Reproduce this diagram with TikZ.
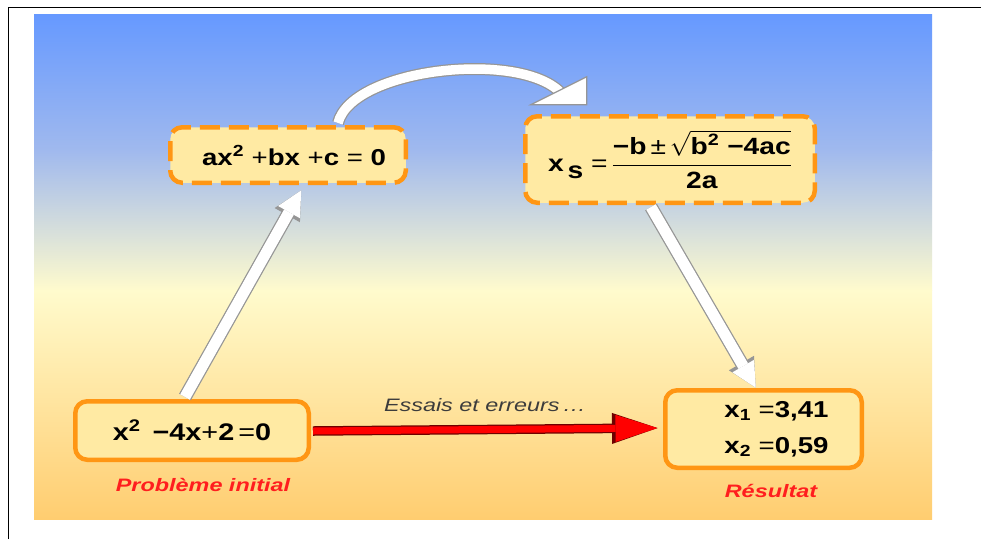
\documentclass[tikz,border=0pt]{standalone}
\usepackage{amsmath}
\usepackage{fontspec}
\setmainfont{Liberation Sans}
\newfontfamily\boxfont[FakeStretch=1.2]{Liberation Sans}
\newfontfamily\labfont[FakeStretch=1.3]{Liberation Sans}
\usetikzlibrary{arrows.meta,calc}
\definecolor{topblue}{RGB}{102,153,255}
\definecolor{lightblue}{RGB}{160,185,238}
\definecolor{greenish}{RGB}{222,232,212}
\definecolor{paleyellow}{RGB}{255,251,205}
\definecolor{midorange}{RGB}{255,230,155}
\definecolor{botorange}{RGB}{255,205,112}
\definecolor{boxfill}{RGB}{255,234,163}
\definecolor{boxorange}{RGB}{255,150,20}
\definecolor{arrowgray}{RGB}{150,150,150}
\definecolor{darkred}{RGB}{110,0,0}
\definecolor{labred}{RGB}{255,30,30}
\definecolor{textgray}{RGB}{60,60,60}
\tikzset{
  boxbase/.style={draw=boxorange, line width=4.5pt, fill=boxfill,
    rounded corners=12pt, inner sep=0pt},
  dbox/.style={boxbase, dash pattern=on 20pt off 9pt},
  sbox/.style={boxbase},
  warrow/.style={line width=11pt, draw=white, shorten >=1.5pt,
    -{Triangle[length=25pt,width=25pt,line width=0pt]},
    preaction={draw=arrowgray, line width=13.5pt,
      -{Triangle[length=28.5pt,width=29pt,line width=0pt]}}},
  wshaft/.style={line width=9.5pt, draw=white,
    preaction={draw=arrowgray, line width=12pt}},
  whead/.style={fill=white, draw=arrowgray, line width=1.2pt, line join=miter},
  rarrow/.style={line width=7pt, draw=red, shorten >=1.5pt,
    -{Triangle[length=42pt,width=27pt,line width=0pt]},
    preaction={draw=darkred, line width=9.5pt,
      -{Triangle[length=45.5pt,width=31pt,line width=0pt]}}},
  lab/.style={font=\labfont\bfseries\itshape\fontsize{18}{20}\selectfont, text=labred},
}
\begin{document}
\begin{tikzpicture}[x=1pt,y=-1pt]
\useasboundingbox (0,0) rectangle (981,539);
\fill[white] (0,0) rectangle (981,539);
% background gradient
\shade[top color=topblue, bottom color=lightblue] (34,14) rectangle (932,150.6);
\shade[top color=lightblue, middle color=greenish, bottom color=paleyellow] (34,150) rectangle (932,290.6);
\shade[top color=paleyellow, middle color=midorange, bottom color=botorange] (34,290) rectangle (932,519);
% frame
\draw[black, line width=1.5pt] (8.5,539) -- (8.5,7.5) -- (981,7.5);
% boxes
\node[dbox, minimum width=235.5pt, minimum height=55.5pt,
  font=\boxfont\bfseries\fontsize{23}{26}\selectfont] (A) at (288,155)
  {\hspace*{12pt}ax\textsuperscript{2} \textmd{+}bx \textmd{+}c \textmd{=} 0};
\node[dbox, minimum width=289.5pt, minimum height=86.5pt,
  font=\boxfont\bfseries\fontsize{23.5}{26}\selectfont] (B) at (670,159.5)
  {x\,\raisebox{-7pt}{s} \textmd{=}$\,\dfrac{\text{−b\,\textmd{±}\,}\sqrt{\text{b\textsuperscript{2} −4ac}}}{\text{2a}}$};
\node[sbox, minimum width=233.5pt, minimum height=58.5pt,
  font=\boxfont\bfseries\fontsize{24}{26}\selectfont] (C) at (192,430.5)
  {x\textsuperscript{2} \,−4x\textmd{+}2\,\textmd{=}0};
\node[sbox, minimum width=196.5pt, minimum height=77.5pt, align=left,
  font=\boxfont\bfseries\fontsize{23}{36}\selectfont] (D) at (763.5,429)
  {\hspace*{26pt}x\textsubscript{1} \textmd{=}3,41\\\hspace*{26pt}x\textsubscript{2} \textmd{=}0,59};
% labels
\node[lab] (L1) at (203,485) {Problème initial};
\node[lab] (L2) at (771,491) {Résultat};
\node[font=\labfont\itshape\fontsize{18}{20}\selectfont, text=textgray] (E) at (485,405) {Essais et erreurs\,\ldots};
% arrows
\draw[warrow] ([xshift=-7pt,yshift=2pt]C.north) -- ([xshift=14pt,yshift=-4pt]A.south);
\draw[warrow] ([xshift=-19pt,yshift=-2pt]B.south) -- ([xshift=-7pt,yshift=-1pt]D.north);
\coordinate (H1) at ($(B.north west)+(63.75,-37.25)$);
\coordinate (H2) at ($(B.north west)+(63.75,-9.25)$);
\coordinate (H3) at ($(B.north west)+(7.75,-9.25)$);
\draw[wshaft] ([xshift=50pt,yshift=2pt]A.north) .. controls (352,68) and (520,50) .. ($(H1)!0.5!(H3)+(2,2)$);
\draw[whead] (H1) -- (H2) -- (H3) -- cycle;
\draw[rarrow] ([xshift=2pt,yshift=-0.5pt]C.east) -- ([xshift=-4pt,yshift=1pt]D.west);
\end{tikzpicture}
\end{document}
